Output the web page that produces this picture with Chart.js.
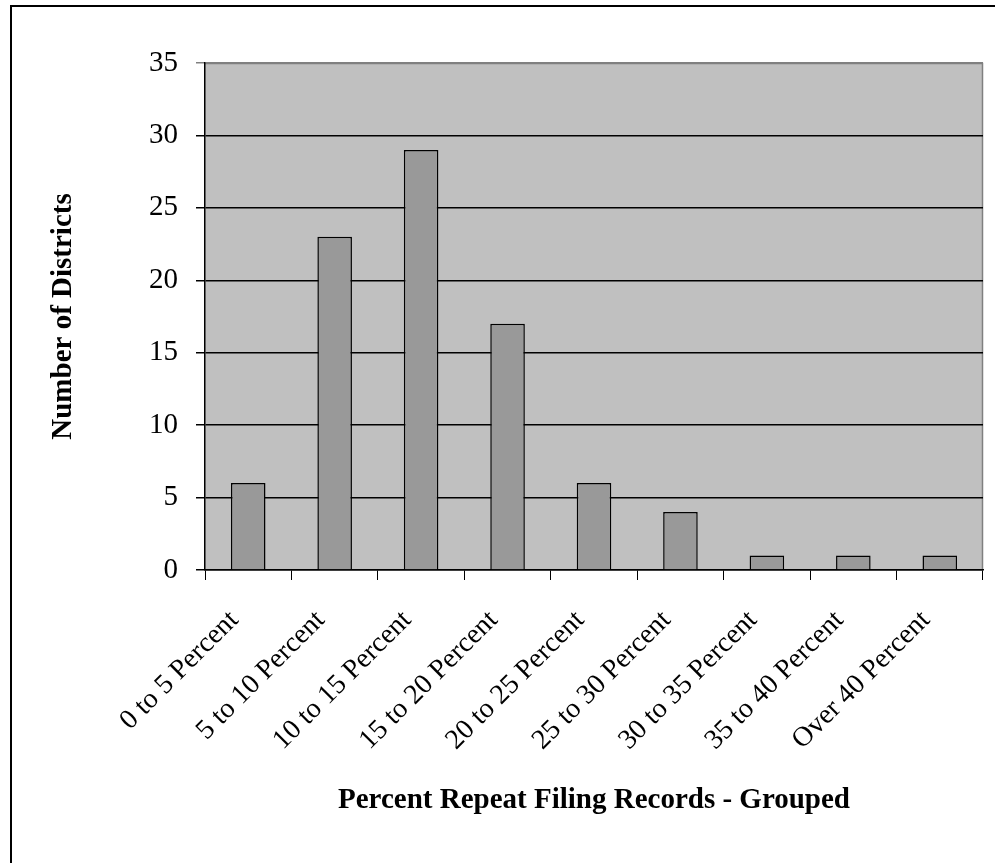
<!DOCTYPE html>
<html lang="en">
<head>
  <meta charset="UTF-8" />
  <title>Percent Repeat Filing Records - Grouped</title>
  <script src="https://cdn.jsdelivr.net/npm/chart.js"></script>
  <style>
    body {
      margin: 0;
      background: #fff;
      overflow: hidden;
    }
    #wrap {
      position: relative;
      width: 995px;
      height: 863px;
    }
    #frame {
      position: absolute;
      left: 10px;
      top: 5px;
      right: 0;
      bottom: 0;
      border-left: 2px solid #000;
      border-top: 2px solid #000;
      pointer-events: none;
    }
    canvas {
      position: absolute;
      left: 0;
      top: 0;
    }
  </style>
</head>
<body>
  <div id="wrap">
    <canvas id="chart" width="995" height="863"></canvas>
    <div id="frame"></div>
  </div>

  <script>
    const categories = [
      "0 to 5 Percent", "5 to 10 Percent", "10 to 15 Percent",
      "15 to 20 Percent", "20 to 25 Percent", "25 to 30 Percent",
      "30 to 35 Percent", "35 to 40 Percent", "Over 40 Percent"
    ];
    const districts = [6, 23, 29, 17, 6, 4, 1, 1, 1];
    const yMax = 35;
    const yStep = 5;

    const serif = "'Liberation Serif', 'Times New Roman', serif";

    // grey plot area with a grey top/right edge
    const plotBackground = {
      id: "plotBackground",
      beforeDraw(chart) {
        const { ctx, chartArea: a } = chart;
        ctx.save();
        ctx.fillStyle = "#c0c0c0";
        ctx.fillRect(a.left, a.top, a.right - a.left, a.bottom - a.top);
        ctx.strokeStyle = "#808080";
        ctx.lineWidth = 1.5;
        ctx.beginPath();
        ctx.moveTo(a.left, a.top + 0.5);
        ctx.lineTo(a.right - 0.5, a.top + 0.5);
        ctx.lineTo(a.right - 0.5, a.bottom);
        ctx.stroke();
        ctx.restore();
      }
    };

    new Chart(document.getElementById("chart"), {
      type: "bar",
      data: {
        labels: categories,
        datasets: [{
          label: "Number of Districts",
          data: districts,
          backgroundColor: "#999999",
          borderColor: "#000",
          borderWidth: 1.5,
          barPercentage: 0.4,
          categoryPercentage: 1
        }]
      },
      options: {
        responsive: false,
        animation: false,
        layout: { padding: { left: 40, right: 12, top: 63, bottom: 37 } },
        plugins: {
          legend: { display: false },
          tooltip: { enabled: false }
        },
        scales: {
          x: {
            afterFit: (s) => { s.height = 256; },
            border: { color: "#000", width: 1.5 },
            grid: {
              offset: true,
              drawOnChartArea: false,
              color: "#000",
              tickLength: 10
            },
            ticks: {
              color: "#000",
              font: { family: serif, size: 28 },
              minRotation: 45,
              maxRotation: 45,
              padding: 24,
              labelOffset: -14
            },
            title: {
              display: true,
              text: "Percent Repeat Filing Records - Grouped",
              color: "#000",
              font: { family: serif, size: 29, weight: "bold" },
              padding: { top: 4, bottom: 8 }
            }
          },
          y: {
            min: 0,
            max: yMax,
            afterFit: (s) => { s.width = 165; },
            border: { color: "#000", width: 1.5 },
            grid: {
              color: (c) => (c.tick && c.tick.value === yMax ? "#808080" : "#000"),
              lineWidth: 1.5,
              tickLength: 9
            },
            ticks: {
              stepSize: yStep,
              color: "#000",
              font: { family: serif, size: 29 },
              padding: 18
            },
            title: {
              display: true,
              text: "Number of Districts",
              color: "#000",
              font: { family: serif, size: 29, weight: "bold" },
              padding: { top: 6, bottom: 4 }
            }
          }
        }
      },
      plugins: [plotBackground]
    });
  </script>
</body>
</html>
